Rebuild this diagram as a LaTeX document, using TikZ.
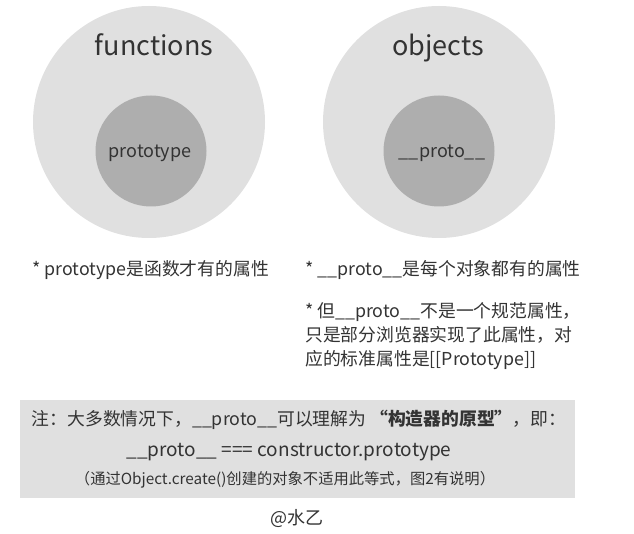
\documentclass[tikz,border=0pt]{standalone}
\usepackage{fontspec}
\setmainfont{Noto Sans CJK SC}
\usepackage{tikz}
\usetikzlibrary{positioning}

\definecolor{outerfill}{HTML}{E0E0E0}
\definecolor{innerfill}{HTML}{AEAEAE}
\definecolor{txt}{HTML}{333333}

\begin{document}
\begin{tikzpicture}[
    x=1pt, y=-1pt,
    every node/.style={text=txt, inner sep=0pt},
    outer/.style={circle, fill=outerfill, minimum size=232pt},
    inner/.style={circle, fill=innerfill, minimum size=111pt},
    title/.style={anchor=base, font=\fontsize{27}{32}\selectfont},
    innertext/.style={anchor=base, font=\fontsize{18}{20}\selectfont},
    remark/.style={anchor=west, align=left, font=\fontsize{17.8}{24}\selectfont},
    notebox/.style={rectangle, fill=outerfill, minimum width=555pt, minimum height=98pt}
]
\useasboundingbox (0,0) rectangle (634,534);

% the two sets
\node[outer] (fun) at (149,122) {};
\node[outer] (obj) at (439,122) {};
\node[title] (funT) at (154,56) {functions};
\node[title] (objT) at (438,56) {objects};
\node[inner] (ptt) at (151,151) {};
\node[inner] (pro) at (439,151) {};
\node[innertext] (pttT) at (150,158) {prototype};
\node[innertext] (proT) at (442,158) {\_\_proto\_\_};

% remarks below the sets
\node[remark] (r1) at (32,270) {* prototype是函数才有的属性};
\node[remark] (r2) at (305,270) {* \_\_proto\_\_是每个对象都有的属性};
\node[remark, anchor=north west] (r3) at (305,302) {* 但\_\_proto\_\_不是一个规范属性，\\只是部分浏览器实现了此属性，对\\应的标准属性是[[Prototype]]};

% note
\node[notebox] (note) at (297,449) {};
\node[font=\fontsize{17.8}{20}\selectfont] (n1) at (299,420) {注：大多数情况下，\_\_proto\_\_可以理解为 \textbf{“构造器的原型”}，即：};
\node[font=\fontsize{19}{22}\selectfont] (n2) at (289,452) {\_\_proto\_\_ === constructor.prototype};
\node[font=\fontsize{15.3}{16}\selectfont] (n3) at (285,480) {（通过Object.create()创建的对象不适用此等式，图2有说明）};

\node[font=\fontsize{18}{20}\selectfont] (sign) at (297,519) {@水乙};
\end{tikzpicture}
\end{document}
